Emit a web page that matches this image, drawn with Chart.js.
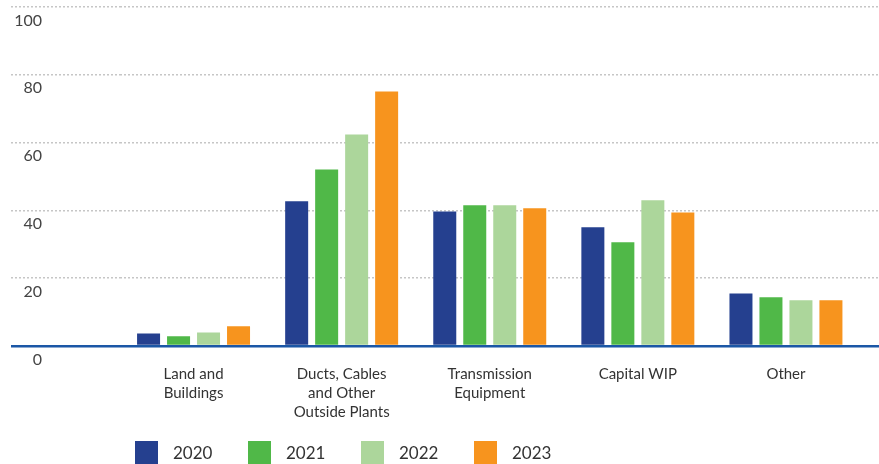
<!DOCTYPE html>
<html>
<head>
<meta charset="utf-8">
<script src="https://cdn.jsdelivr.net/npm/chart.js@4.4.1/dist/chart.umd.min.js"></script>
<style>
  body { margin: 0; background: #fff; }
  #wrap { position: relative; width: 879px; height: 464px; overflow: hidden; }
  #legend { position: absolute; left: 135px; top: 441px; display: flex; font-family: Lato, sans-serif; font-size: 17px; color: #333; }
  #legend .item { display: flex; align-items: center; width: 113px; }
  #legend .box { width: 23px; height: 23px; margin-right: 15px; }
</style>
</head>
<body>
<div id="wrap">
  <canvas id="chart1" width="879" height="464"></canvas>
  <div id="legend"></div>
</div>
<script>
/* ---------- data ---------- */
const categories = [
  ["Land and", "Buildings"],
  ["Ducts, Cables", "and Other", "Outside Plants"],
  ["Transmission", "Equipment"],
  ["Capital WIP"],
  ["Other"]
];
const years = ["2020", "2021", "2022", "2023"];
const v2020 = [3.7, 42.7, 39.7, 35.0, 15.5];
const v2021 = [2.9, 52.1, 41.5, 30.6, 14.4];
const v2022 = [4.0, 62.4, 41.5, 43.0, 13.5];
const v2023 = [5.8, 75.1, 40.6, 39.4, 13.5];
const yTicks = [0, 20, 40, 60, 80, 100];

const colors = ['#25408f', '#50b848', '#acd69b', '#f7941e'];
const series = [v2020, v2021, v2022, v2023];

const gridGrey = '#c6c6c6';
const baseBlue = '#1b57a6';

// gridline / tick styling, the zero line is the solid blue baseline
const isZero = (c) => c.tick && c.tick.value === 0;
const gridOpts = (len, onArea) => ({
  drawOnChartArea: onArea,
  tickLength: len,
  color: (c) => isZero(c) ? baseBlue : gridGrey,
  lineWidth: (c) => isZero(c) ? 2.5 : 1.5,
  tickColor: (c) => isZero(c) ? baseBlue : gridGrey,
  tickWidth: (c) => isZero(c) ? 2.5 : 1.5,
  tickBorderDash: (c) => isZero(c) ? [] : [2, 2]
});

const ctx1 = document.getElementById('chart1').getContext('2d');

const data1 = {
  labels: categories,
  datasets: years.map((y, i) => ({
    label: y,
    data: series[i],
    backgroundColor: colors[i],
    borderWidth: 0,
    categoryPercentage: 0.81,
    barPercentage: 0.767
  }))
};

const config1 = {
  type: 'bar',
  data: data1,
  options: {
    responsive: false,
    animation: false,
    layout: { padding: { left: 11, top: 7, right: 0, bottom: 0 } },
    plugins: {
      legend: { display: false },
      tooltip: { enabled: false }
    },
    scales: {
      x: {
        grid: { display: false },
        border: { display: false },
        ticks: {
          padding: 11,
          maxRotation: 0,
          autoSkip: false,
          color: '#333',
          font: { family: 'Lato', size: 15, lineHeight: 1.27 }
        },
        afterFit: (s) => { s.height = 118; }
      },
      y: {
        min: 0,
        max: 100,
        afterBuildTicks: (s) => { s.ticks = yTicks.map(v => ({ value: v })); },
        grid: gridOpts(108.5, true),
        border: { display: false, dash: (c) => isZero(c) ? [] : [2, 2] },
        ticks: {
          padding: -31,
          labelOffset: 13.5,
          color: '#444',
          font: { family: 'Lato', size: 16 }
        },
        afterFit: (s) => { s.width = 108.5; }
      },
      y2: {
        position: 'right',
        min: 0,
        max: 100,
        afterBuildTicks: (s) => { s.ticks = yTicks.map(v => ({ value: v })); },
        grid: gridOpts(19, false),
        border: { display: false },
        ticks: { display: false },
        afterFit: (s) => { s.width = 19; }
      }
    }
  }
};

const myChart1 = new Chart(ctx1, config1);

// legend built from the datasets
const legendEl = document.getElementById('legend');
myChart1.data.datasets.forEach((ds) => {
  const item = document.createElement('div');
  item.className = 'item';
  const box = document.createElement('span');
  box.className = 'box';
  box.style.background = ds.backgroundColor;
  const txt = document.createElement('span');
  txt.textContent = ds.label;
  item.appendChild(box);
  item.appendChild(txt);
  legendEl.appendChild(item);
});
</script>
</body>
</html>
